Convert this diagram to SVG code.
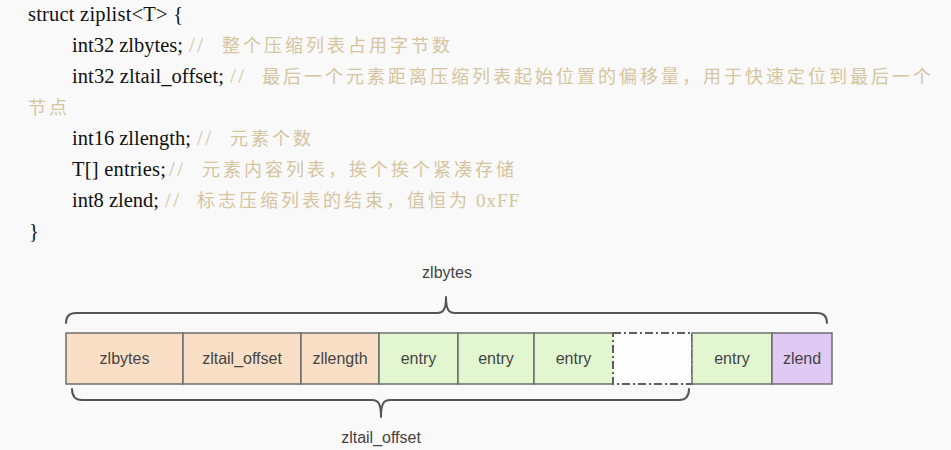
<svg xmlns="http://www.w3.org/2000/svg" width="951" height="450" viewBox="0 0 951 450">
<style>
.code{font-family:"Liberation Serif","Times New Roman",serif;font-size:20.5px;fill:#111}
.cm{font-family:"Noto Sans CJK SC","Noto Sans",sans-serif;font-size:18px;fill:#d4c59f;letter-spacing:3px}
.sl{font-family:"Liberation Serif",serif;font-size:21px;fill:#d4c59f;letter-spacing:2.5px}
.cell{stroke:#6e6e6e;stroke-width:1.5}
.hdr{fill:#f9dfc6}
.ent{fill:#e2f6cf}
.end{fill:#e0c9f5}
.lbl{font-family:"Liberation Sans",Arial,sans-serif;font-size:16px;fill:#444;text-anchor:middle}
.brace{fill:none;stroke:#555;stroke-width:2;stroke-linecap:round;stroke-linejoin:round}
</style>
<rect width="951" height="450" fill="#f9f9f9"/>
<g id="code">
<text class="code" x="28" y="21" textLength="155" lengthAdjust="spacing">struct ziplist&lt;T&gt; {</text>
<text class="code" x="72" y="52" textLength="111" lengthAdjust="spacing">int32 zlbytes;</text>
<text class="sl" x="189" y="52">//</text>
<text class="cm" x="222" y="52">整个压缩列表占用字节数</text>
<text class="code" x="72" y="83" textLength="152" lengthAdjust="spacing">int32 zltail_offset;</text>
<text class="sl" x="230" y="83">//</text>
<text class="cm" x="262" y="83">最后一个元素距离压缩列表起始位置的偏移量，用于快速定位到最后一个</text>
<text class="cm" x="28" y="114">节点</text>
<text class="code" x="72" y="145" textLength="119" lengthAdjust="spacing">int16 zllength;</text>
<text class="sl" x="197" y="145">//</text>
<text class="cm" x="230" y="145">元素个数</text>
<text class="code" x="72" y="176" textLength="94" lengthAdjust="spacing">T[] entries;</text>
<text class="sl" x="169" y="176">//</text>
<text class="cm" x="202" y="176">元素内容列表，挨个挨个紧凑存储</text>
<text class="code" x="72" y="207" textLength="87" lengthAdjust="spacing">int8 zlend;</text>
<text class="sl" x="165" y="207">//</text>
<text class="cm" x="197" y="207">标志压缩列表的结束，值恒为</text>
<text class="cm" x="476" y="207" style="letter-spacing:1px;font-family:'Liberation Serif',serif;font-size:19px">0xFF</text>
<text class="code" x="29" y="238">}</text>
</g>
<g id="connectors">
<path class="brace" d="M66,323 Q66,313 76,313 L437,313 C443,313 446,310 446,297 C446,310 449,313 455,313 L817,313 Q827,313 827,323"/>
<path class="brace" d="M72,389 Q72,400 82,400 L372,400 C378,400 381,403 381,417 C381,403 384,400 390,400 L679,400 Q689,400 689,389"/>
</g>
<g id="label-zlbytes-total"><text class="lbl" x="447" y="278">zlbytes</text></g>
<g id="label-zltail-offset"><text class="lbl" x="381" y="443">zltail_offset</text></g>
<g id="cell-zlbytes"><rect class="cell hdr" x="66" y="333" width="117" height="51"/><text class="lbl" x="124.5" y="364">zlbytes</text></g>
<g id="cell-zltail_offset"><rect class="cell hdr" x="183" y="333" width="118" height="51"/><text class="lbl" x="242" y="364">zltail_offset</text></g>
<g id="cell-zllength"><rect class="cell hdr" x="301" y="333" width="78" height="51"/><text class="lbl" x="340" y="364">zllength</text></g>
<g id="cell-entry1"><rect class="cell ent" x="379" y="333" width="79" height="51"/><text class="lbl" x="418.5" y="364">entry</text></g>
<g id="cell-entry2"><rect class="cell ent" x="458" y="333" width="76" height="51"/><text class="lbl" x="496" y="364">entry</text></g>
<g id="cell-entry3"><rect class="ent" x="534" y="333" width="79" height="51"/><path class="cell" fill="none" d="M613,333 H534 V384 H613"/><text class="lbl" x="573.5" y="364">entry</text></g>
<g id="cell-ellipsis"><rect x="613" y="333" width="79" height="51" fill="#fdfdfd" stroke="#5e5e5e" stroke-width="2" stroke-dasharray="8 3 2 3"/></g>
<g id="cell-entryN"><rect class="cell ent" x="692" y="333" width="80" height="51"/><text class="lbl" x="732" y="364">entry</text></g>
<g id="cell-zlend"><rect class="cell end" x="772" y="333" width="60" height="51"/><text class="lbl" x="802" y="364">zlend</text></g>
</svg>
